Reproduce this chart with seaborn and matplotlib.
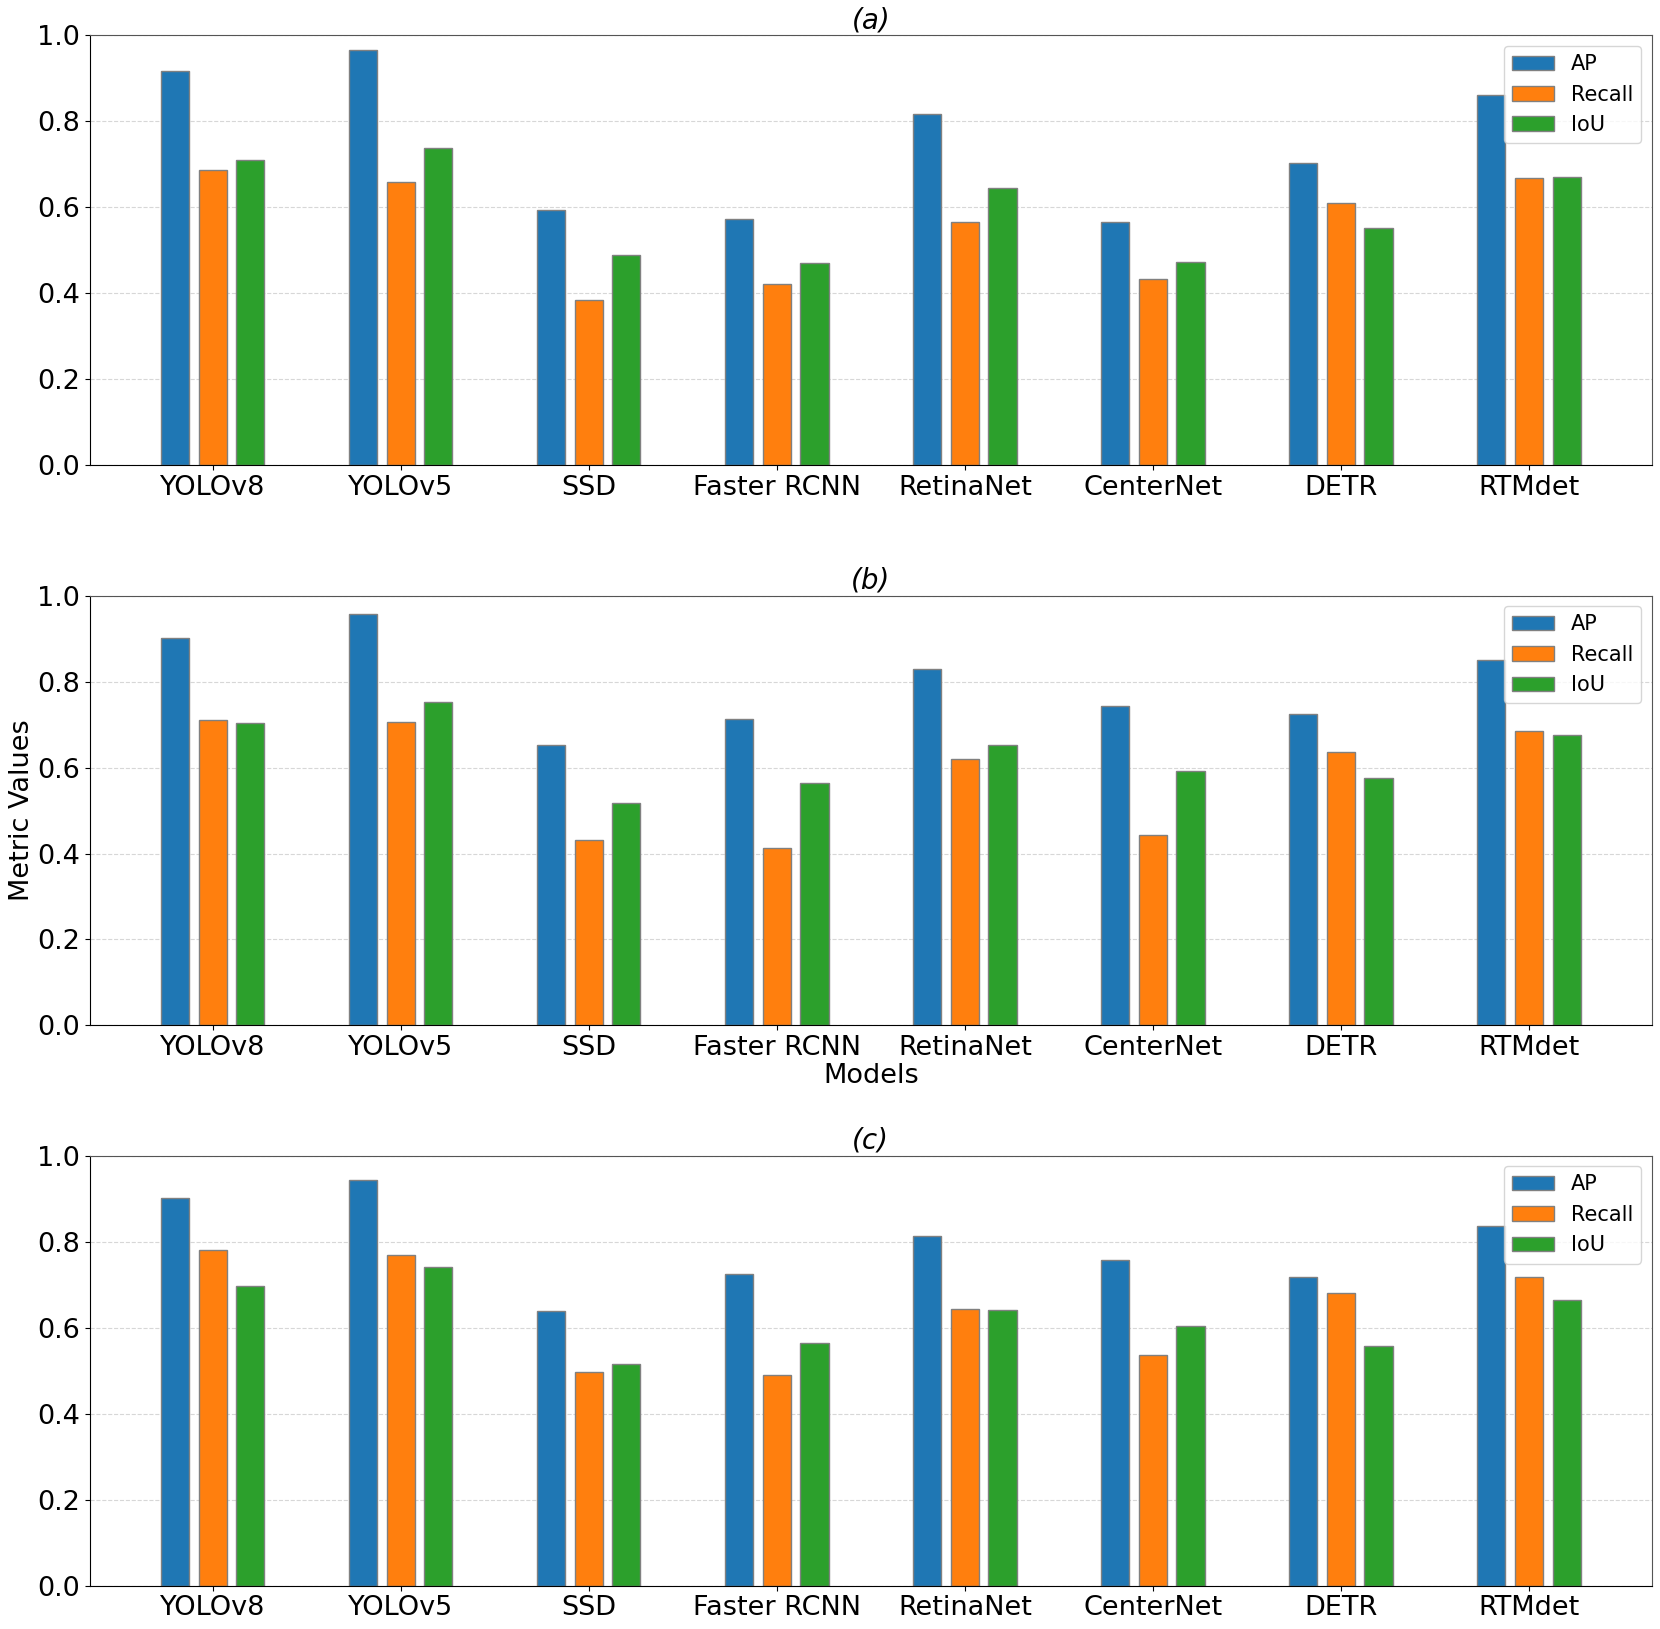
import pandas as pd
import matplotlib
matplotlib.use('Agg')
import matplotlib.pyplot as plt
import seaborn as sns

# Models and metrics
models = ['YOLOv8', 'YOLOv5', 'SSD', 'Faster RCNN', 'RetinaNet', 'CenterNet', 'DETR', 'RTMdet']
metrics = ['AP', 'Recall', 'IoU']
panel_titles = ['(a)', '(b)', '(c)']

# Panel (a)
ap_a = [0.918, 0.967, 0.593, 0.572, 0.817, 0.565, 0.704, 0.862]
recall_a = [0.686, 0.660, 0.385, 0.421, 0.565, 0.433, 0.610, 0.669]
iou_a = [0.710, 0.739, 0.490, 0.471, 0.646, 0.473, 0.552, 0.670]

# Panel (b)
ap_b = [0.902, 0.956, 0.652, 0.713, 0.830, 0.742, 0.725, 0.850]
recall_b = [0.710, 0.705, 0.431, 0.412, 0.620, 0.442, 0.636, 0.686]
iou_b = [0.704, 0.752, 0.517, 0.563, 0.652, 0.593, 0.576, 0.675]

# Panel (c)
ap_c = [0.901, 0.943, 0.638, 0.726, 0.814, 0.758, 0.718, 0.836]
recall_c = [0.781, 0.770, 0.496, 0.490, 0.644, 0.536, 0.680, 0.717]
iou_c = [0.696, 0.741, 0.515, 0.564, 0.641, 0.603, 0.558, 0.665]

panels = [(ap_a, recall_a, iou_a), (ap_b, recall_b, iou_b), (ap_c, recall_c, iou_c)]
colors = ['#1f77b4', '#ff7f0e', '#2ca02c']


def to_long(ap, recall, iou):
    rows = []
    for name, vals in zip(metrics, [ap, recall, iou]):
        for m, v in zip(models, vals):
            rows.append({'Model': m, 'Metric': name, 'Value': v})
    return pd.DataFrame(rows)


fig, axes = plt.subplots(3, 1, figsize=(16.6, 16.29), dpi=100)
fig.subplots_adjust(left=0.0542, right=0.995, top=0.9783, bottom=0.0266, hspace=0.303)

for i, (ax, vals) in enumerate(zip(axes, panels)):
    df = to_long(*vals)
    sns.barplot(data=df, x='Model', y='Value', hue='Metric', order=models,
                hue_order=metrics, palette=colors, width=0.6, gap=0.25,
                edgecolor='gray', linewidth=1, saturation=1, ax=ax)
    ax.set_xlim(-0.6525, 7.6525)
    ax.set_ylim(0, 1.0)
    ax.set_title(panel_titles[i], fontsize=20, style='italic', pad=5)
    ax.grid(axis='y', linestyle='--', color='lightgray', alpha=0.9)
    ax.set_axisbelow(True)
    ax.tick_params(axis='both', labelsize=19.5)
    ax.spines['top'].set_color('#555555')
    ax.spines['right'].set_color('#555555')
    ax.legend(loc='upper right', fontsize=15)
    if i == 1:
        ax.set_xlabel('Models', fontsize=19.5, labelpad=1)
        ax.set_ylabel('Metric Values', fontsize=19.5, labelpad=2)
    else:
        ax.set_xlabel('')
        ax.set_ylabel('')

plt.savefig('out.png', dpi=100)
plt.close()
